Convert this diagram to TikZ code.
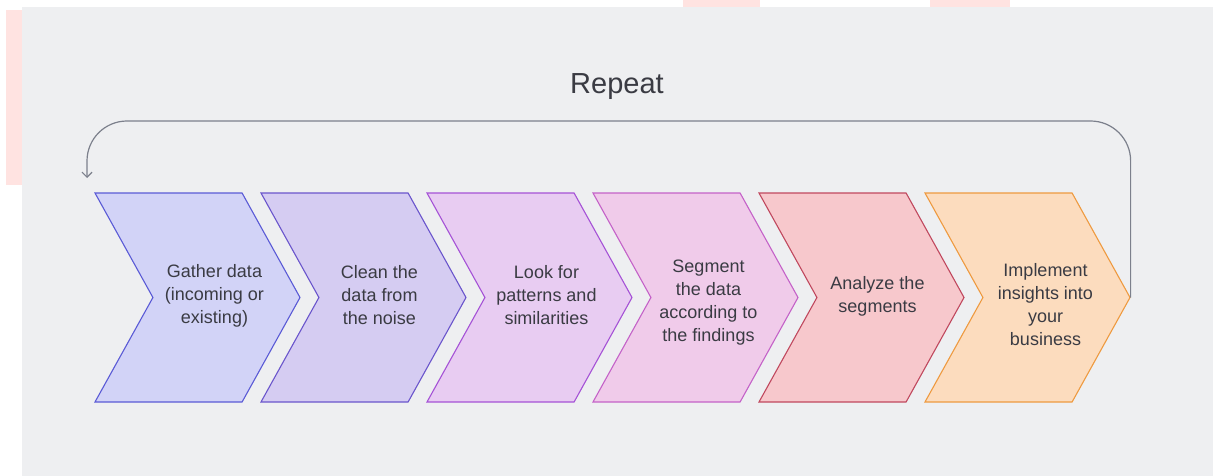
\documentclass[tikz,border=0pt]{standalone}
\usepackage{fontspec}
\setmainfont{Liberation Sans}
\usetikzlibrary{shapes.symbols,positioning,arrows.meta}
\definecolor{panel}{HTML}{EEEFF1}
\definecolor{smudge}{HTML}{FFE3E1}
\definecolor{txt}{HTML}{3A3B43}
\definecolor{loopc}{HTML}{7C808C}
\definecolor{f1}{HTML}{D2D3F7}\definecolor{d1}{HTML}{5A5AD6}
\definecolor{f2}{HTML}{D5CCF2}\definecolor{d2}{HTML}{6A55CC}
\definecolor{f3}{HTML}{E8CCF2}\definecolor{d3}{HTML}{A552D6}
\definecolor{f4}{HTML}{F0CBEA}\definecolor{d4}{HTML}{C462C8}
\definecolor{f5}{HTML}{F7C8CC}\definecolor{d5}{HTML}{C0485E}
\definecolor{f6}{HTML}{FCDCBE}\definecolor{d6}{HTML}{EE9A40}
\begin{document}
\begin{tikzpicture}[x=1pt,y=-1pt,node distance=166pt,
	stepbox/.style={signal,signal to=east,signal from=west,signal pointer angle=122,
		minimum width=205pt,minimum height=209pt,inner sep=0pt,line width=1.1pt},
	steptext/.style={align=center,text=txt,font=\fontsize{18}{23}\selectfont},
	backarrow/.style={-{Straight Barb[length=5pt,width=10pt]},draw=loopc,line width=1.2pt,rounded corners=40pt}]
\useasboundingbox (0,0) rectangle (1213,476);
\fill[white] (0,0) rectangle (1213,476);
\fill[smudge] (6,10) rectangle (22,185);
\fill[smudge] (683,0) rectangle (760,7);
\fill[smudge] (930,0) rectangle (1010,7);
\fill[panel] (22,7) rectangle (1213,476);
\node[text=txt,font=\fontsize{29}{32}\selectfont]	(rep)	at (617,87)	{Repeat};
\node[stepbox,draw=d1,fill=f1]	(s1)	at (197.5,297.5)	{};
\node[stepbox,draw=d2,fill=f2]	(s2)	[right of=s1]	{};
\node[stepbox,draw=d3,fill=f3]	(s3)	[right of=s2]	{};
\node[stepbox,draw=d4,fill=f4]	(s4)	[right of=s3]	{};
\node[stepbox,draw=d5,fill=f5]	(s5)	[right of=s4]	{};
\node[stepbox,draw=d6,fill=f6]	(s6)	[right of=s5]	{};
\node[steptext]	(t1)	at ([xshift=17pt,yshift=2pt]s1.center)	{Gather data\\(incoming or\\existing)};
\node[steptext]	(t2)	at ([xshift=16pt,yshift=2pt]s2.center)	{Clean the\\data from\\the noise};
\node[steptext]	(t3)	at ([xshift=17pt,yshift=2pt]s3.center)	{Look for\\patterns and\\similarities};
\node[steptext]	(t4)	at ([xshift=13pt,yshift=-5pt]s4.center)	{Segment\\the data\\according to\\the findings};
\node[steptext]	(t5)	at ([xshift=16pt,yshift=1pt]s5.center)	{Analyze the\\segments};
\node[steptext]	(t6)	at ([xshift=18pt,yshift=-7pt]s6.center)	{Implement\\insights into\\your\\business};
\coordinate	(top)	at (87,121);
\coordinate	(back)	at (87,178);
\draw[backarrow]	(s6.east) |- (top) -- (back);
\end{tikzpicture}
\end{document}
